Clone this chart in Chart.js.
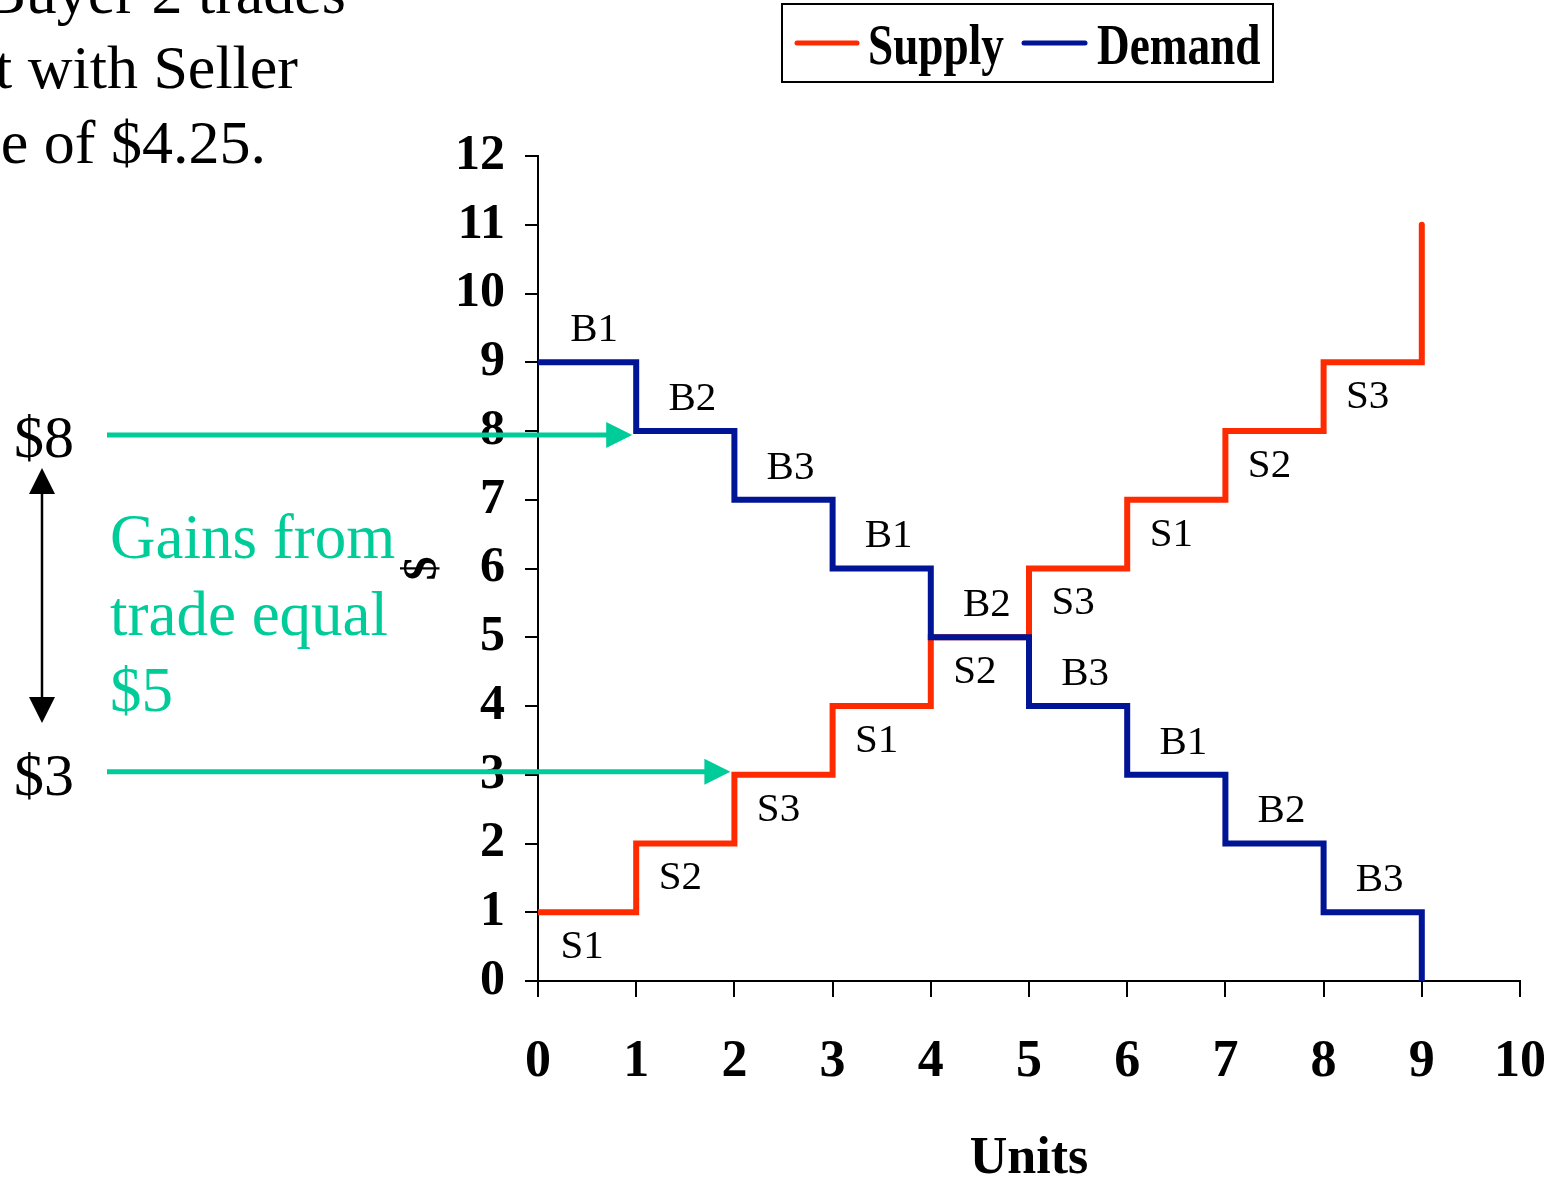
<!DOCTYPE html>
<html>
<head>
<meta charset="utf-8">
<script src="https://cdn.jsdelivr.net/npm/chart.js@4.4.1/dist/chart.umd.min.js"></script>
<style>
  html, body { margin: 0; padding: 0; background: #ffffff; }
  #wrap { width: 1558px; height: 1183px; position: relative; }
</style>
</head>
<body>
<div id="wrap"><canvas id="c" width="1558" height="1183"></canvas></div>
<script>
// ---- data ----
const units = [0, 1, 2, 3, 4, 5, 6, 7, 8, 9];
const supplyCost = [1, 2, 3, 4, 5, 6, 7, 8, 9];
const demandValue = [9, 8, 7, 6, 5, 4, 3, 2, 1];
const supplyEndValue = 11;
const demandEndValue = 0;
const supplyLabels = ['S1', 'S2', 'S3', 'S1', 'S2', 'S3', 'S1', 'S2', 'S3'];
const demandLabels = ['B1', 'B2', 'B3', 'B1', 'B2', 'B3', 'B1', 'B2', 'B3'];
const xTicks = [0, 1, 2, 3, 4, 5, 6, 7, 8, 9, 10];
const yTicks = [0, 1, 2, 3, 4, 5, 6, 7, 8, 9, 10, 11, 12];
const buyerPrice = 8;   // Buyer 2's value
const sellerPrice = 3;  // Seller 3's cost
const buyerUnit = 1;
const sellerUnit = 2;
const gains = buyerPrice - sellerPrice;
const titleLines = ['Buyer 2 trades', 't with Seller', 'e of $4.25.'];

const RED = '#FF2B00';
const BLUE = '#001496';
const TEAL = '#00CC99';
const SERIF = '"Liberation Serif", "Times New Roman", serif';

function steps(vals, endVal) {
  const pts = vals.map((v, i) => ({ x: units[i], y: v }));
  const last = units[vals.length];
  pts.push({ x: last, y: vals[vals.length - 1] });
  pts.push({ x: last, y: endVal });
  return pts;
}

const annotations = {
  id: 'annotations',
  afterDatasetsDraw(chart) {
    const ctx = chart.ctx;
    const xs = chart.scales.x, ys = chart.scales.y;
    ctx.save();
    // step labels
    ctx.fillStyle = '#000';
    ctx.font = '41px ' + SERIF;
    ctx.textAlign = 'center';
    ctx.textBaseline = 'middle';
    demandLabels.forEach((t, i) => {
      ctx.fillText(t, xs.getPixelForValue(units[i] + 0.5) + 7, ys.getPixelForValue(demandValue[i]) - 32);
    });
    supplyLabels.forEach((t, i) => {
      ctx.fillText(t, xs.getPixelForValue(units[i] + 0.5) - 5, ys.getPixelForValue(supplyCost[i]) + 35);
    });
    ctx.restore();
  },
  afterDraw(chart) {
    const ctx = chart.ctx;
    const xs = chart.scales.x, ys = chart.scales.y;
    ctx.save();

    // title text (cropped at the left edge)
    ctx.fillStyle = '#000';
    ctx.font = '62px ' + SERIF;
    ctx.textAlign = 'right';
    ctx.textBaseline = 'alphabetic';
    const ends = [346, 298, 266];
    titleLines.forEach((t, i) => ctx.fillText(t, ends[i], 13 + i * 75));

    // legend
    ctx.lineWidth = 2;
    ctx.strokeStyle = '#000';
    ctx.strokeRect(782, 4, 491, 78);
    ctx.lineCap = 'round';
    ctx.lineWidth = 5;
    ctx.strokeStyle = RED;
    ctx.beginPath(); ctx.moveTo(797, 43); ctx.lineTo(857, 43); ctx.stroke();
    ctx.strokeStyle = BLUE;
    ctx.beginPath(); ctx.moveTo(1024, 43); ctx.lineTo(1085, 43); ctx.stroke();
    ctx.fillStyle = '#000';
    ctx.textAlign = 'left';
    ctx.font = 'bold 58px ' + SERIF;
    [[chart.data.datasets[0].label, 868], [chart.data.datasets[1].label, 1097]].forEach(([t, x]) => {
      ctx.save();
      ctx.translate(x, 64);
      ctx.scale(0.78, 1);
      ctx.fillText(t, 0, 0);
      ctx.restore();
    });

    // horizontal teal arrows
    const startX = 107;
    const arrows = [[buyerPrice, buyerUnit], [sellerPrice, sellerUnit]];
    ctx.strokeStyle = TEAL;
    ctx.fillStyle = TEAL;
    ctx.lineCap = 'butt';
    ctx.lineWidth = 5;
    arrows.forEach(([v, u], k) => {
      const y = ys.getPixelForValue(v) + (k === 0 ? 4 : -3);
      const tip = xs.getPixelForValue(u) - 4;
      ctx.beginPath(); ctx.moveTo(startX, y); ctx.lineTo(tip - 24, y); ctx.stroke();
      ctx.beginPath(); ctx.moveTo(tip, y); ctx.lineTo(tip - 26, y - 13); ctx.lineTo(tip - 26, y + 13); ctx.closePath(); ctx.fill();
    });

    // price labels
    ctx.fillStyle = '#000';
    ctx.font = '60px ' + SERIF;
    ctx.textAlign = 'left';
    ctx.fillText('$' + buyerPrice, 14, ys.getPixelForValue(buyerPrice) + 26);
    ctx.fillText('$' + sellerPrice, 14, ys.getPixelForValue(sellerPrice) + 20);

    // vertical double arrow
    const ax = 42, topTip = 468, botTip = 723;
    ctx.strokeStyle = '#000';
    ctx.lineWidth = 2.5;
    ctx.beginPath(); ctx.moveTo(ax, topTip + 20); ctx.lineTo(ax, botTip - 20); ctx.stroke();
    ctx.beginPath(); ctx.moveTo(ax, topTip); ctx.lineTo(ax - 13, topTip + 26); ctx.lineTo(ax + 13, topTip + 26); ctx.closePath(); ctx.fill();
    ctx.beginPath(); ctx.moveTo(ax, botTip); ctx.lineTo(ax - 13, botTip - 26); ctx.lineTo(ax + 13, botTip - 26); ctx.closePath(); ctx.fill();

    // gains text
    ctx.fillStyle = TEAL;
    ctx.font = '63px ' + SERIF;
    ctx.fillText('Gains from', 110, 558);
    ctx.fillText('trade equal', 110, 635);
    ctx.fillText('$' + gains, 110, 711);

    ctx.restore();
  }
};

const tickFontY = { family: SERIF, weight: 'bold', size: 50 };
const tickFontX = { family: SERIF, weight: 'bold', size: 52 };

new Chart(document.getElementById('c'), {
  type: 'line',
  data: {
    datasets: [
      {
        label: 'Supply',
        data: steps(supplyCost, supplyEndValue),
        borderColor: RED,
        backgroundColor: RED,
        borderWidth: 6,
        stepped: 'before',
        pointRadius: 0,
        fill: false,
        borderCapStyle: 'round',
        borderJoinStyle: 'miter',
        order: 2
      },
      {
        label: 'Demand',
        data: steps(demandValue, demandEndValue),
        borderColor: BLUE,
        backgroundColor: BLUE,
        borderWidth: 6,
        stepped: 'before',
        pointRadius: 0,
        fill: false,
        borderCapStyle: 'round',
        borderJoinStyle: 'miter',
        order: 1
      }
    ]
  },
  options: {
    responsive: false,
    animation: false,
    layout: { padding: { left: 400, right: 38, top: 156, bottom: 0 } },
    plugins: { legend: { display: false }, tooltip: { enabled: false } },
    scales: {
      x: {
        type: 'linear',
        min: xTicks[0],
        max: xTicks[xTicks.length - 1],
        afterBuildTicks: (s) => { s.ticks = xTicks.map(v => ({ value: v })); },
        ticks: { font: tickFontX, color: '#000', padding: 34, maxRotation: 0, autoSkip: false },
        grid: { drawOnChartArea: false, drawTicks: true, tickLength: 16, color: '#000', lineWidth: 2 },
        border: { display: true, color: '#000', width: 2 },
        title: { display: true, text: 'Units', color: '#000', font: { family: SERIF, weight: 'bold', size: 52, lineHeight: 0.9 }, padding: 0 },
        afterFit: (s) => { s.height = 202; s.paddingLeft = 0; s.paddingRight = 0; }
      },
      y: {
        type: 'linear',
        min: yTicks[0],
        max: yTicks[yTicks.length - 1],
        afterBuildTicks: (s) => { s.ticks = yTicks.map(v => ({ value: v })); },
        ticks: { font: tickFontY, color: '#000', padding: 20, autoSkip: false },
        grid: { drawOnChartArea: false, drawTicks: true, tickLength: 13, color: '#000', lineWidth: 2 },
        border: { display: true, color: '#000', width: 2 },
        title: { display: true, text: '$', color: '#000', font: { family: SERIF, weight: 'bold', size: 48, lineHeight: 1 }, padding: 0 },
        afterFit: (s) => { s.width = 138; s.paddingTop = 0; s.paddingBottom = 0; }
      }
    }
  },
  plugins: [annotations]
});
</script>
</body>
</html>
